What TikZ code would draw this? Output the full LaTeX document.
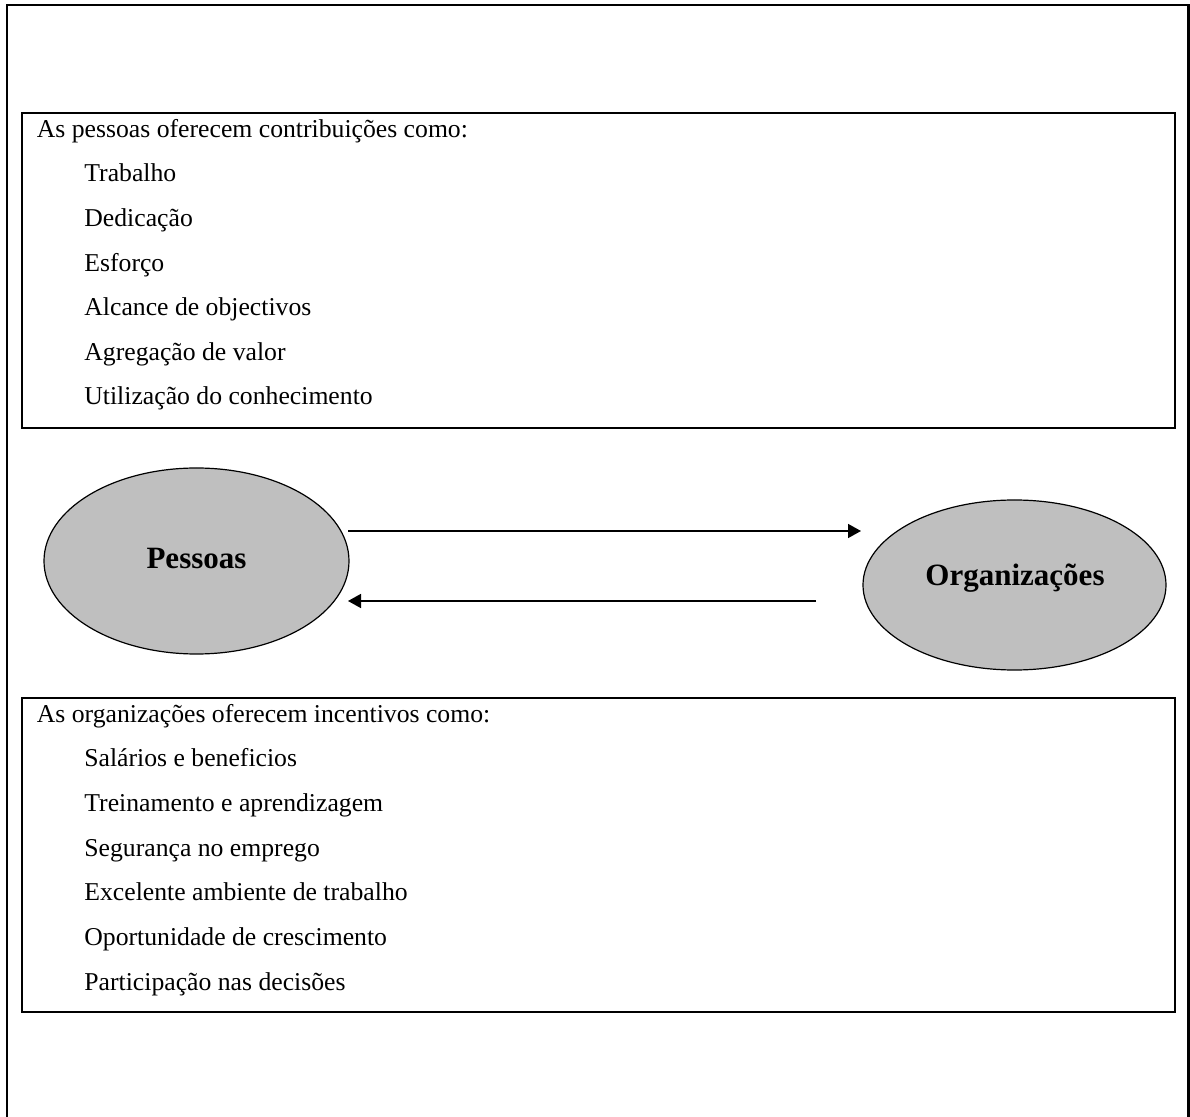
\documentclass[tikz,border=0pt]{standalone}
\usepackage{fontspec}
\setmainfont{Liberation Serif}
\usetikzlibrary{shapes.geometric,arrows.meta}
\begin{document}
\begin{tikzpicture}[x=0.5pt,y=-0.5pt,
  frameline/.style={line width=1.4pt},
  boxline/.style={line width=1.4pt},
  txt/.style={anchor=base west,inner sep=0pt,font=\fontsize{12.85pt}{15pt}\selectfont},
  oval/.style={ellipse,draw,line width=0.6pt,fill=gray!50!white,inner sep=0pt},
  ovaltxt/.style={inner sep=0pt,font=\bfseries\fontsize{15.5pt}{18pt}\selectfont},
  flow/.style={line width=0.8pt,-{Triangle[length=6.5pt,width=7pt]}}]
\useasboundingbox (0,0) rectangle (1190,1117);
% outer frame (open at the bottom)
\draw[frameline] (7,1117) -- (7,5) -- (1188.5,5) -- (1188.5,1117);
% top box
\draw[boxline] (22,113) rectangle (1175,428);
\node[txt] (h1) at (36.5,137.5) {As pessoas oferecem contribuições como:};
\node[txt] (a1) at (84,182) {Trabalho};
\node[txt] (a2) at (84,226.6) {Dedicação};
\node[txt] (a3) at (84,271.2) {Esforço};
\node[txt] (a4) at (84,315.8) {Alcance de objectivos};
\node[txt] (a5) at (84,360.4) {Agregação de valor};
\node[txt] (a6) at (84,405) {Utilização do conhecimento};
% bottom box
\draw[boxline] (22,698) rectangle (1175,1012);
\node[txt] (h2) at (36.5,723) {As organizações oferecem incentivos como:};
\node[txt] (b1) at (84,767) {Salários e beneficios};
\node[txt] (b2) at (84,811.6) {Treinamento e aprendizagem};
\node[txt] (b3) at (84,856.2) {Segurança no emprego};
\node[txt] (b4) at (84,900.8) {Excelente ambiente de trabalho};
\node[txt] (b5) at (84,945.4) {Oportunidade de crescimento};
\node[txt] (b6) at (84,990) {Participação nas decisões};
% ellipses
\node[oval,minimum width=152.5pt,minimum height=93pt] (pes) at (196.5,561) {};
\node[ovaltxt] (pestxt) at (196.5,559) {Pessoas};
\node[oval,minimum width=151.5pt,minimum height=85pt] (org) at (1014.5,585) {};
\node[ovaltxt] (orgtxt) at (1015,578) {Organizações};
% arrows
\coordinate (p1) at (348,531);
\coordinate (o1) at (861,531);
\coordinate (o2) at (816,601);
\coordinate (p2) at (348,601);
\draw[flow] (p1) -- (o1);
\draw[flow] (o2) -- (p2);
\end{tikzpicture}
\end{document}
